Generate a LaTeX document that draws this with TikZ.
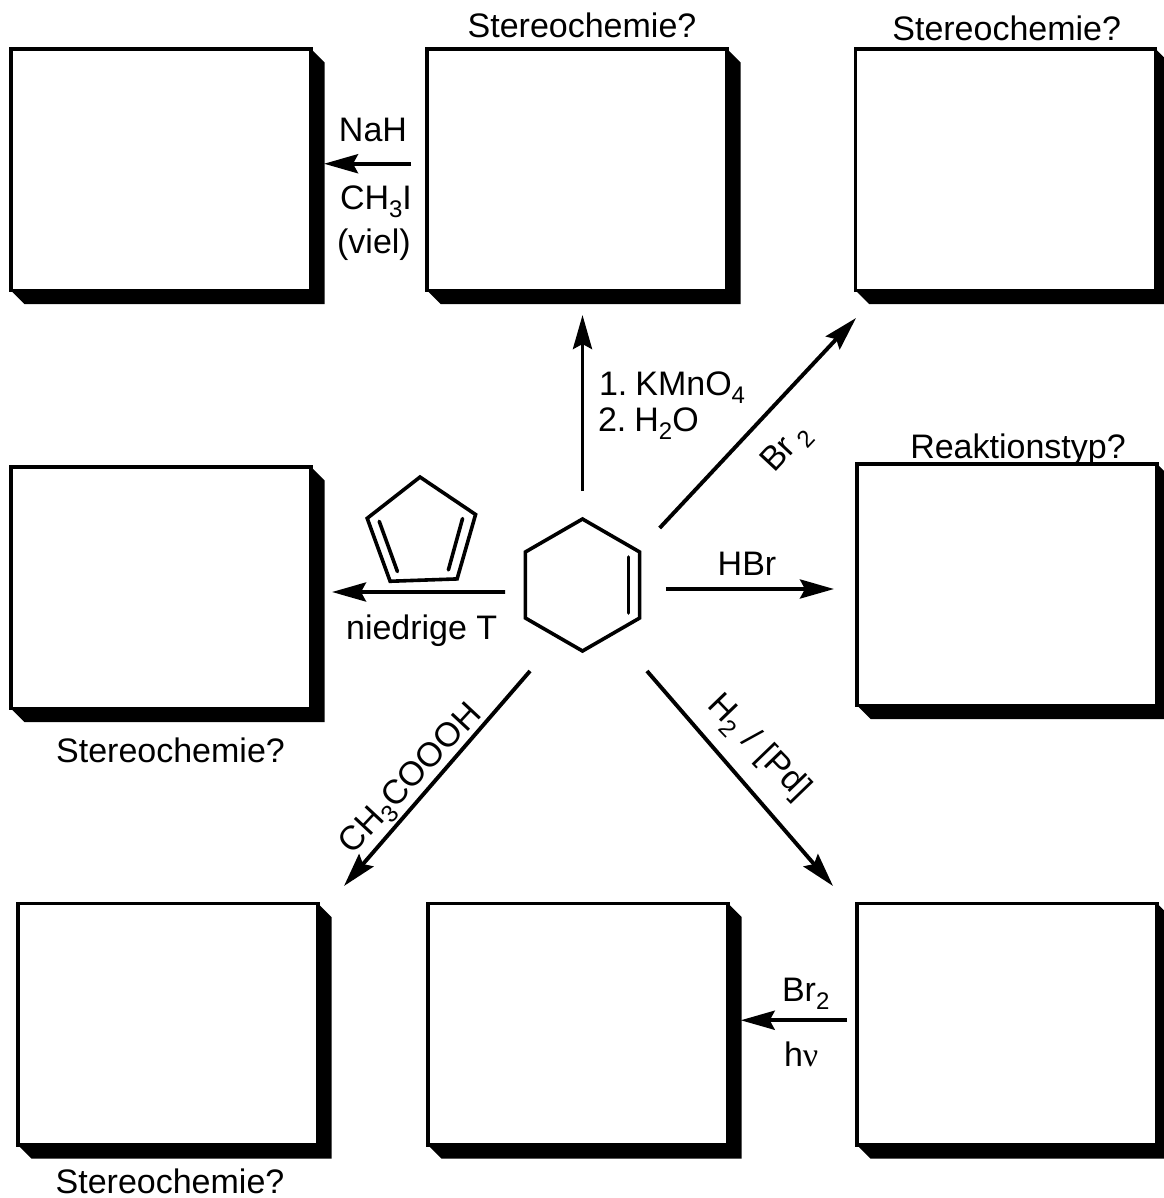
\documentclass[tikz,border=0pt]{standalone}
\usepackage{fontspec}
\setmainfont{Liberation Sans}
\newfontfamily\nufont{Liberation Serif}
\usepackage{tikz}
\usetikzlibrary{calc}
\usetikzlibrary{arrows.meta}
\usetikzlibrary{shapes.geometric}

\newcommand{\chemsub}[1]{\raisebox{-8pt}{\fontsize{24}{24}\selectfont #1}}

\begin{document}
\begin{tikzpicture}[x=1pt,y=-1pt]
    \tikzstyle{every node}=[font=\fontsize{34}{38}\selectfont,inner sep=0pt,outer sep=0pt]
    \tikzstyle{rbox}=[draw=black,line width=3.5pt,fill=white,anchor=north west,minimum width=300pt,minimum height=241.5pt]
    \tikzstyle{lbl}=[anchor=base]
    \tikzstyle{lblw}=[anchor=base west]
    \tikzstyle{ring}=[draw=black,line width=3.6pt,regular polygon]
    \tikzstyle{bond}=[line width=3.6pt,line cap=round]
    \tikzstyle{rxn}=[line width=3.9pt,-{Stealth[length=34pt,width=19pt,inset=5pt]}]

    \useasboundingbox (0,0) rectangle (1163,1198);

    % result boxes with their solid shadow
    \foreach \name/\px/\py in {nah/11/49,kmn/427/49,brt/855.5/49,dien/11/467,hbr/857/464,per/18/903.5,brh/428/903.5,pd/857/903.5}{%
      \node[rbox] (\name) at (\px,\py) {} ;
      \fill (\name.north east) -- ++(13.5,13.5) -- ([shift={(13.5pt,-13.5pt)}]\name.south east)
            -- ([shift={(13.5pt,-13.5pt)}]\name.south west) -- (\name.south west) -- (\name.south east) -- cycle ;
    }

    % starting material
    \node[ring,regular polygon sides=6,minimum size=132pt,rotate=30] (hexa) at (582.5,585) {} ;
    \draw[bond] ([xshift=-11,yshift=-5]hexa.corner 6) -- ([xshift=-11,yshift=5]hexa.corner 5) ;

    \node[ring,regular polygon sides=5,minimum size=114pt,rotate=2] (penta) at (422,534) {} ;
    \draw[bond] ([xshift=12,yshift=-3]penta.corner 2) -- ([xshift=7.3,yshift=9.7]penta.corner 3) ;
    \draw[bond] ([xshift=-13,yshift=-4]penta.corner 5) -- ([xshift=-8.7,yshift=9]penta.corner 4) ;

    % reactions
    \draw[rxn] ([yshift=28]hexa.corner 1) -- ([xshift=5.5,yshift=-24.5]kmn.south) ;
    \draw[rxn] ([xshift=20,yshift=24]hexa.corner 6) -- ([xshift=0.5,yshift=-27.5]brt.south west) ;
    \draw[rxn] ([xshift=26.3,yshift=-37]hexa.corner 6) -- ([xshift=-23,yshift=-4.25]hbr.west) ;
    \draw[rxn] ([xshift=-20.3,yshift=-40]hexa.corner 2) -- ([xshift=21,yshift=-4.25]dien.east) ;
    \draw[rxn] ([xshift=7.3,yshift=-53]hexa.corner 5) -- ([xshift=-24,yshift=17.5]pd.north west) ;
    \draw[rxn] ([xshift=4.7,yshift=-53]hexa.corner 3) -- ([xshift=26,yshift=17.5]per.north east) ;
    \draw[rxn] ([xshift=-16,yshift=6]kmn.west) -- ([xshift=13,yshift=6]nah.east) ;
    \draw[rxn] ([xshift=-10,yshift=4]pd.west) -- ([xshift=12.7,yshift=4]brh.east) ;

    % questions
    \node[lbl] (qkmn) at (582,38) {Stereochemie?} ;
    \node[lbl] (qbrt) at (1006.7,41) {Stereochemie?} ;
    \node[lbl] (qdien) at (170.5,762.5) {Stereochemie?} ;
    \node[lbl] (qper) at (170,1193) {Stereochemie?} ;
    \node[lbl] (qhbr) at (1018,458.5) {Reaktionstyp?} ;

    % reagents
    \node[lbl] (rnah) at (373,141.7) {NaH} ;
    \node[lblw] (rch) at (340,210) {CH\chemsub{3}I} ;
    \node[lbl] (rviel) at (374,254) {(viel)} ;
    \node[lblw] (rkmn) at (599,395) {1.\hspace{8pt}KMnO\chemsub{4}} ;
    \node[lblw] (rwat) at (598,431) {2.\hspace{8pt}H\chemsub{2}O} ;
    \node[lbl] (rhbr) at (747,575) {HBr} ;
    \node[lbl] (rtemp) at (421.7,639) {niedrige T} ;
    \node[lblw] (rbr) at (782,1001.5) {Br\chemsub{2}} ;
    \node[lblw] (rhv) at (784,1066) {h{\nufont ν}} ;
    \node[rotate=47] (rbrt) at (787,449) {Br\hspace{6pt}\chemsub{2}} ;
    \node[rotate=47] (rper) at (412,780) {CH\chemsub{3}COOOH} ;
    \node[rotate=-46] (rpd) at (758,748) {H\chemsub{2}\hspace{12pt}/\hspace{12pt}[Pd]} ;
\end{tikzpicture}
\end{document}
